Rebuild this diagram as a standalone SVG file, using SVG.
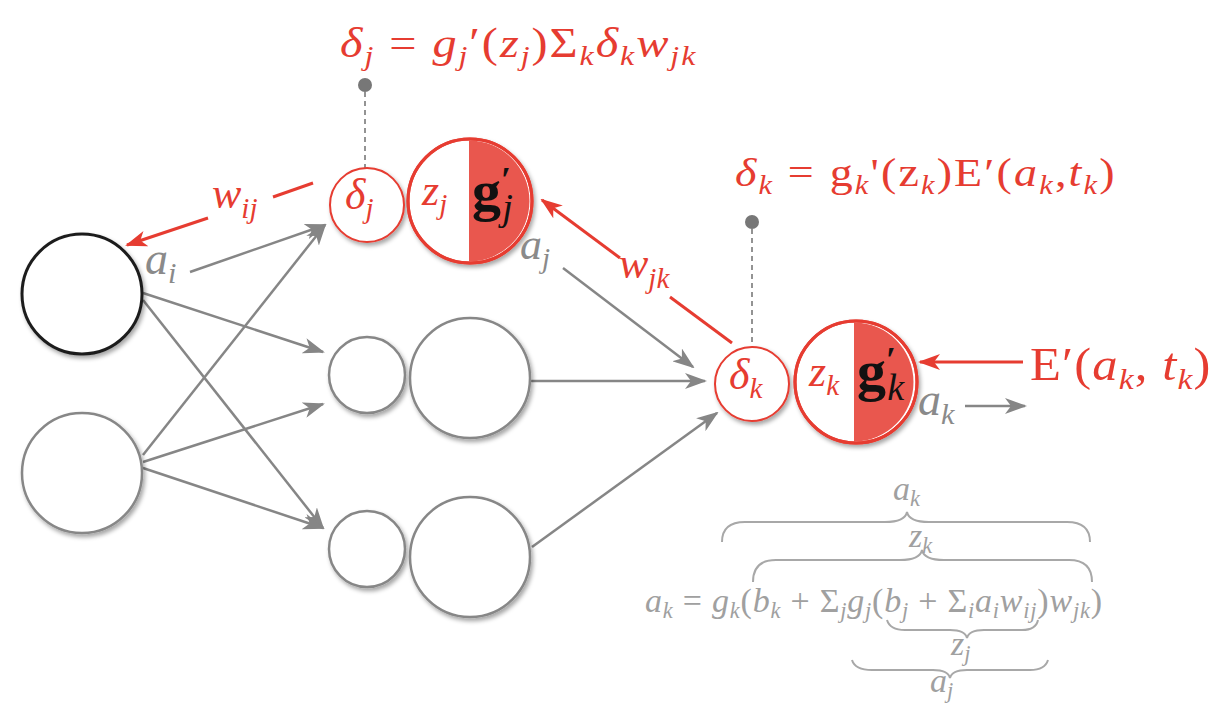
<svg xmlns="http://www.w3.org/2000/svg" width="1220" height="722" viewBox="0 0 1220 722">
<style>
text{font-family:"Liberation Serif","Times New Roman",serif;}
.red{fill:#e63c31;}
.gray{fill:#8a8a8a;}
.lg{fill:#a0a0a0;}
.it{font-style:italic;}
.s{font-size:0.66em;font-style:italic;}
.cg{fill:#fff;stroke:#878787;stroke-width:2.5;}
.cb{fill:#fff;stroke:#1e1e1e;stroke-width:3;}
.cr{fill:#fff;stroke:#e63c31;stroke-width:3;}
.crt{fill:#fff;stroke:#e63c31;stroke-width:2;}
.half{fill:#e9574e;}
.ga{stroke:#868686;stroke-width:2.5;fill:none;marker-end:url(#ag);}
.ra{stroke:#e63c31;stroke-width:3;fill:none;}
.dash{stroke:#707070;stroke-width:1.5;stroke-dasharray:5 4;}
.brace{fill:none;stroke:#a8a8a8;stroke-width:2;}
.gp{font-size:58px;font-weight:bold;fill:#111;}
</style>
<defs>
<marker id="ag" viewBox="0 0 22 16" refX="20" refY="8" markerWidth="22" markerHeight="16" orient="auto" markerUnits="userSpaceOnUse"><path d="M0,0 L22,8 L0,16 L6,8 Z" fill="#868686"/></marker>
<marker id="ar" viewBox="0 0 22 16" refX="20" refY="8" markerWidth="22" markerHeight="16" orient="auto" markerUnits="userSpaceOnUse"><path d="M0,0 L22,8 L0,16 L6,8 Z" fill="#e63c31"/></marker>
<filter id="sh" x="-20%" y="-20%" width="150%" height="150%"><feDropShadow dx="2" dy="3" stdDeviation="2" flood-color="#000" flood-opacity="0.35"/></filter>
</defs>
<rect width="1220" height="722" fill="#fff"/>

<g id="connectors">
<line class="ga" x1="190" y1="272" x2="325" y2="225"/>
<line class="ga" x1="143" y1="293" x2="323" y2="352"/>
<line class="ga" x1="143" y1="300" x2="323" y2="528"/>
<line class="ga" x1="143" y1="455" x2="325" y2="225"/>
<line class="ga" x1="143" y1="462" x2="323" y2="404"/>
<line class="ga" x1="143" y1="468" x2="323" y2="528"/>
<line class="ga" x1="563" y1="268" x2="693" y2="367"/>
<line class="ga" x1="531" y1="381" x2="705" y2="381"/>
<line class="ga" x1="532" y1="547" x2="717" y2="413"/>
<line class="ga" x1="965" y1="406" x2="1025" y2="406"/>
<line class="ra" x1="208" y1="218" x2="127" y2="245" marker-end="url(#ar)"/>
<line class="ra" x1="273" y1="197" x2="313" y2="183"/>
<line class="ra" x1="620" y1="258" x2="542" y2="200" marker-end="url(#ar)"/>
<line class="ra" x1="670" y1="297" x2="732" y2="343"/>
<line class="ra" x1="1023" y1="362" x2="920" y2="362" marker-end="url(#ar)"/>
<circle cx="365" cy="85" r="7" fill="#777"/>
<line class="dash" x1="365" y1="92" x2="365" y2="168"/>
<circle cx="752" cy="222" r="7" fill="#777"/>
<line class="dash" x1="752" y1="229" x2="752" y2="346"/>
</g>

<g id="input1"><circle class="cb" cx="82" cy="294" r="60" filter="url(#sh)"/></g>
<g id="input2"><circle class="cg" cx="82" cy="473" r="60" filter="url(#sh)"/></g>

<g id="hidden1">
<circle class="crt" cx="367" cy="205" r="37" filter="url(#sh)"/>
<text class="red it" x="345" y="209" font-size="44">δ<tspan class="s" dy="9">j</tspan></text>
<circle class="cr" cx="470" cy="201" r="62" filter="url(#sh)"/>
<path class="half" d="M469,140.5 A60.5,60.5 0 0 1 469,261.5 Z"/>
<circle cx="470" cy="201" r="62" fill="none" stroke="#e63c31" stroke-width="3"/>
<text class="red it" x="422" y="205" font-size="44">z<tspan class="s" dy="9">j</tspan></text>
<text class="gp" x="472" y="210">g<tspan font-size="36" dy="-18">′</tspan><tspan class="s" font-size="32" font-weight="normal" dx="-9" dy="28">j</tspan></text>
</g>

<g id="hidden2">
<circle class="cg" cx="367" cy="375" r="38" filter="url(#sh)"/>
<circle class="cg" cx="470" cy="378" r="60" filter="url(#sh)"/>
</g>
<g id="hidden3">
<circle class="cg" cx="367" cy="549" r="38" filter="url(#sh)"/>
<circle class="cg" cx="470" cy="557" r="60" filter="url(#sh)"/>
</g>

<g id="output">
<circle class="crt" cx="752" cy="384" r="37" filter="url(#sh)"/>
<text class="red it" x="729" y="389" font-size="44">δ<tspan class="s" dy="9">k</tspan></text>
<circle class="cr" cx="856" cy="382" r="61" filter="url(#sh)"/>
<path class="half" d="M854,322.5 A59.5,59.5 0 0 1 854,441.5 Z"/>
<circle cx="856" cy="382" r="61" fill="none" stroke="#e63c31" stroke-width="3"/>
<text class="red it" x="809" y="386" font-size="44">z<tspan class="s" dy="9">k</tspan></text>
<text class="gp" x="857" y="390">g<tspan font-size="36" dy="-18">′</tspan><tspan class="s" font-size="32" font-weight="normal" dx="-9" dy="28">k</tspan></text>
</g>

<g id="labels">
<text class="gray it" x="145" y="274" font-size="46">a<tspan class="s" dy="9">i</tspan></text>
<text class="gray it" x="520" y="259" font-size="44">a<tspan class="s" dy="9">j</tspan></text>
<text class="gray it" x="918" y="415" font-size="46">a<tspan class="s" dy="9">k</tspan></text>
<text class="red it" x="212" y="208" font-size="44">w<tspan class="s" dy="10">ij</tspan></text>
<text class="red it" x="619" y="278" font-size="44">w<tspan class="s" dy="10">jk</tspan></text>
<text class="red" transform="translate(1030,380) scale(1.1,1)" x="0" y="0" font-size="46" textLength="164" lengthAdjust="spacing">E′(<tspan class="it">a</tspan><tspan class="s" dy="9">k</tspan><tspan dy="-9">, </tspan><tspan class="it">t</tspan><tspan class="s" dy="9">k</tspan><tspan dy="-9">)</tspan></text>
<text class="red" transform="translate(340,57) scale(1.15,1)" x="0" y="0" font-size="42" textLength="309" lengthAdjust="spacing"><tspan class="it">δ</tspan><tspan class="s" dy="8">j</tspan><tspan dy="-8"> = </tspan><tspan class="it">g</tspan><tspan class="s" dy="8">j</tspan><tspan dy="-8">′(</tspan><tspan class="it">z</tspan><tspan class="s" dy="8">j</tspan><tspan dy="-8">)Σ</tspan><tspan class="s" dy="8">k</tspan><tspan class="it" dy="-8">δ</tspan><tspan class="s" dy="8">k</tspan><tspan class="it" dy="-8">w</tspan><tspan class="s" dy="8">jk</tspan></text>
<text class="red" transform="translate(735,186) scale(1.15,1)" x="0" y="0" font-size="40" textLength="330" lengthAdjust="spacing"><tspan class="it">δ</tspan><tspan class="s" dy="8">k</tspan><tspan dy="-8"> = g</tspan><tspan class="s" dy="8">k</tspan><tspan dy="-8">'(z</tspan><tspan class="s" dy="8">k</tspan><tspan dy="-8">)E′(</tspan><tspan class="it">a</tspan><tspan class="s" dy="8">k</tspan><tspan dy="-8">,</tspan><tspan class="it">t</tspan><tspan class="s" dy="8">k</tspan><tspan dy="-8">)</tspan></text>
</g>

<g id="formula">
<text class="lg" x="645" y="612" font-size="34" textLength="457" lengthAdjust="spacing"><tspan class="it">a</tspan><tspan class="s" dy="6">k</tspan><tspan dy="-6"> = </tspan><tspan class="it">g</tspan><tspan class="s" dy="6">k</tspan><tspan dy="-6">(</tspan><tspan class="it">b</tspan><tspan class="s" dy="6">k</tspan><tspan dy="-6"> + Σ</tspan><tspan class="s" dy="6">j</tspan><tspan class="it" dy="-6">g</tspan><tspan class="s" dy="6">j</tspan><tspan dy="-6">(</tspan><tspan class="it">b</tspan><tspan class="s" dy="6">j</tspan><tspan dy="-6"> + Σ</tspan><tspan class="s" dy="6">i</tspan><tspan class="it" dy="-6">a</tspan><tspan class="s" dy="6">i</tspan><tspan class="it" dy="-6">w</tspan><tspan class="s" dy="6">ij</tspan><tspan dy="-6">)</tspan><tspan class="it">w</tspan><tspan class="s" dy="6">jk</tspan><tspan dy="-6">)</tspan></text>
<path class="brace" d="M722,542 Q722,522 745,522 L885,522 Q905,522 907,512 Q909,522 929,522 L1067,522 Q1090,522 1090,542"/>
<path class="brace" d="M753,582 Q753,560 776,560 L900,560 Q920,560 922,550 Q924,560 944,560 L1069,560 Q1092,560 1092,582"/>
<path class="brace" d="M887,620 Q890,630 905,630 L950,630 Q965,630 967,638 Q969,630 984,630 L1022,630 Q1036,630 1038,620"/>
<path class="brace" d="M852,660 Q855,670 872,670 L933,670 Q948,670 950,678 Q952,670 967,670 L1030,670 Q1045,670 1048,660"/>
<text class="lg it" x="893" y="500" font-size="34">a<tspan class="s" dy="6">k</tspan></text>
<text class="lg it" x="909" y="547" font-size="34">z<tspan class="s" dy="6">k</tspan></text>
<text class="lg it" x="951" y="655" font-size="34">z<tspan class="s" dy="6">j</tspan></text>
<text class="lg it" x="930" y="692" font-size="34">a<tspan class="s" dy="6">j</tspan></text>
</g>
</svg>
